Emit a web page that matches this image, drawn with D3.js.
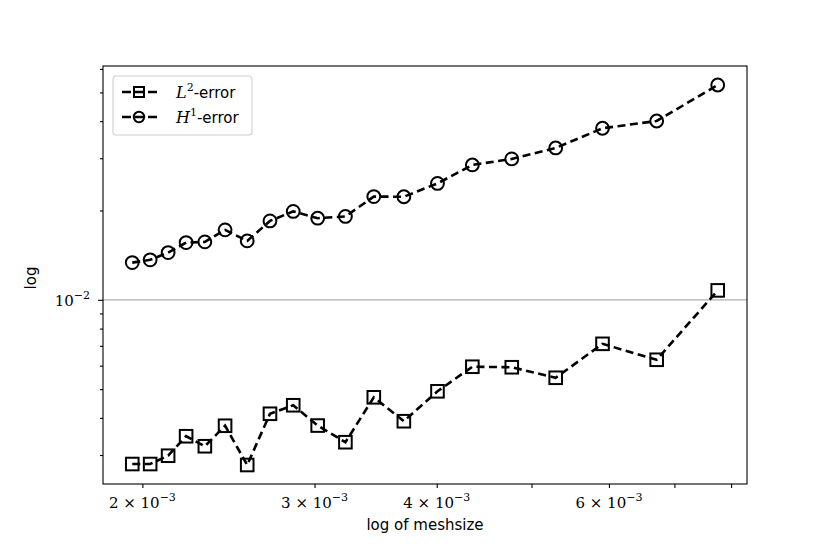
<!DOCTYPE html>
<html>
<head>
<meta charset="utf-8">
<script src="https://cdn.jsdelivr.net/npm/d3@7"></script>
<style>
  body { margin: 0; background: #fff; }
</style>
</head>
<body>
<div id="chart"></div>
<script>
// meshsize (x) and errors
const meshsize = [0.001953, 0.002037, 0.002125, 0.002217, 0.002317, 0.002430, 0.002560,
  0.002701, 0.002853, 0.003022, 0.003226, 0.003449, 0.003702, 0.004007, 0.004350,
  0.004773, 0.005293, 0.005910, 0.006714, 0.007752];
const l2Error = [0.002797, 0.002797, 0.002983, 0.003470, 0.003211, 0.003764, 0.002776,
  0.004131, 0.004413, 0.003770, 0.003313, 0.004694, 0.003899, 0.004918, 0.005950,
  0.005927, 0.005462, 0.007108, 0.006281, 0.01076];
const h1Error = [0.01335, 0.01364, 0.01443, 0.01559, 0.01568, 0.01721, 0.01580,
  0.01845, 0.01986, 0.01884, 0.01910, 0.02228, 0.02225, 0.02468, 0.02848,
  0.02984, 0.03249, 0.03786, 0.04006, 0.05296];

const xMinor = [0.002, 0.003, 0.004, 0.005, 0.006, 0.007, 0.008];
const xLabelled = [[0.002, '2'], [0.003, '3'], [0.004, '4'], [0.006, '6']];
const yMajor = [0.01];
const yMinor = [0.003, 0.004, 0.005, 0.006, 0.007, 0.008, 0.009, 0.02, 0.03, 0.04, 0.05, 0.06];

(function () {
  const WIDTH = 830, HEIGHT = 554;
  const MARGIN = { TOP: 66, BOTTOM: 70, LEFT: 103, RIGHT: 83 };
  const w = WIDTH - MARGIN.LEFT - MARGIN.RIGHT;
  const h = HEIGHT - MARGIN.TOP - MARGIN.BOTTOM;

  const serif = '"DejaVu Serif", "Liberation Serif", serif';
  const sans = '"DejaVu Sans", "Liberation Sans", sans-serif';

  const svg = d3.select('#chart').append('svg')
    .attr('width', WIDTH)
    .attr('height', HEIGHT);

  const g = svg.append('g')
    .attr('transform', `translate(${MARGIN.LEFT}, ${MARGIN.TOP})`);

  // log domain padded 5% like matplotlib
  const pad = (vals) => {
    const lo = Math.log10(d3.min(vals)), hi = Math.log10(d3.max(vals));
    const m = (hi - lo) * 0.05;
    return [Math.pow(10, lo - m), Math.pow(10, hi + m)];
  };

  const x = d3.scaleLog().domain(pad(meshsize)).range([0, w]);
  const y = d3.scaleLog().domain(pad(l2Error.concat(h1Error))).range([h, 0]);

  // grid line at the major y tick
  g.selectAll('.grid')
    .data(yMajor)
    .enter()
    .append('line')
    .attr('x1', 0).attr('x2', w)
    .attr('y1', d => y(d)).attr('y2', d => y(d))
    .style('stroke', '#b0b0b0')
    .style('stroke-width', 1.1);

  // axes
  const xAxis = g.append('g')
    .attr('transform', `translate(0, ${h})`)
    .call(d3.axisBottom(x).tickValues(xMinor).tickFormat('').tickSize(4));
  const yAxisMinor = g.append('g')
    .call(d3.axisLeft(y).tickValues(yMinor).tickFormat('').tickSize(3));
  const yAxisMajor = g.append('g')
    .call(d3.axisLeft(y).tickValues(yMajor).tickFormat('').tickSize(5));

  [xAxis, yAxisMinor, yAxisMajor].forEach(a => {
    a.select('.domain').remove();
    a.selectAll('.tick line').style('stroke', '#000').style('stroke-width', 1.1);
  });

  g.append('rect')
    .attr('width', w).attr('height', h)
    .style('fill', 'none')
    .style('stroke', '#000')
    .style('stroke-width', 1.1);

  // x tick labels  "n × 10^-3"
  const xl = g.selectAll('.xl')
    .data(xLabelled)
    .enter()
    .append('text')
    .attr('x', d => x(d[0]))
    .attr('y', h + 24)
    .attr('text-anchor', 'middle')
    .style('font-family', serif)
    .style('font-size', '15px');
  xl.append('tspan').text(d => `${d[1]} × 10`);
  xl.append('tspan').attr('dy', -7).style('font-size', '11px').text('−3');

  // y tick label
  const yl = g.selectAll('.yl')
    .data(yMajor)
    .enter()
    .append('text')
    .attr('x', -13)
    .attr('y', d => y(d) + 6)
    .attr('text-anchor', 'end')
    .style('font-family', serif)
    .style('font-size', '15px');
  yl.append('tspan').text('10');
  yl.append('tspan').attr('dy', -7).style('font-size', '11px').text('−2');

  // axis titles
  g.append('text')
    .attr('x', w / 2)
    .attr('y', h + 46)
    .attr('text-anchor', 'middle')
    .style('font-family', sans)
    .style('font-size', '15px')
    .text('log of meshsize');

  g.append('text')
    .attr('transform', `translate(-67, ${h / 2 + 3}) rotate(-90)`)
    .attr('text-anchor', 'middle')
    .style('font-family', sans)
    .style('font-size', '15px')
    .text('log');

  // series
  const series = [
    { name: 'L', sup: '2', values: l2Error, marker: 'square' },
    { name: 'H', sup: '1', values: h1Error, marker: 'circle' }
  ];

  const line = d3.line()
    .x(d => x(d[0]))
    .y(d => y(d[1]));

  const drawMarker = (sel, kind) => {
    if (kind === 'square') {
      sel.append('rect')
        .attr('x', -6.3).attr('y', -6.3)
        .attr('width', 12.6).attr('height', 12.6);
    } else {
      sel.append('circle').attr('r', 6.4);
    }
    sel.selectAll('rect, circle')
      .style('fill', 'none')
      .style('stroke', '#000')
      .style('stroke-width', 2);
  };

  series.forEach(s => {
    const pts = meshsize.map((m, i) => [m, s.values[i]]);
    g.append('path')
      .datum(pts)
      .attr('d', line)
      .style('fill', 'none')
      .style('stroke', '#000')
      .style('stroke-width', 2.6)
      .style('stroke-dasharray', '8,4.5');

    g.selectAll(`.mk-${s.marker}`)
      .data(pts)
      .enter()
      .append('g')
      .attr('class', `mk-${s.marker}`)
      .attr('transform', d => `translate(${x(d[0])}, ${y(d[1])})`)
      .each(function () { drawMarker(d3.select(this), s.marker); });
  });

  // legend
  const legend = svg.append('g').attr('transform', 'translate(113, 76)');
  legend.append('rect')
    .attr('width', 139).attr('height', 59)
    .attr('rx', 3)
    .style('fill', '#fff')
    .style('fill-opacity', 0.8)
    .style('stroke', '#d0d0d0')
    .style('stroke-width', 1.1);

  series.forEach((s, i) => {
    const row = legend.append('g').attr('transform', `translate(0, ${16 + i * 25})`);
    row.append('line')
      .attr('x1', 9).attr('x2', 47)
      .style('stroke', '#000')
      .style('stroke-width', 2.6)
      .style('stroke-dasharray', '9,4');
    const mk = row.append('g').attr('transform', 'translate(26, 0)');
    if (s.marker === 'square') {
      mk.append('rect').attr('x', -5).attr('y', -5).attr('width', 10).attr('height', 10);
    } else {
      mk.append('circle').attr('r', 5.2);
    }
    mk.selectAll('rect, circle')
      .style('fill', 'none').style('stroke', '#000').style('stroke-width', 2);

    const t = row.append('text')
      .attr('x', 63)
      .attr('y', 6)
      .style('font-size', '16px');
    t.append('tspan').style('font-family', serif).style('font-style', 'italic').text(s.name);
    t.append('tspan').attr('dy', -7).style('font-family', serif).style('font-size', '11px').text(s.sup);
    t.append('tspan').attr('dy', 7).style('font-family', sans).style('font-size', '15px').text('-error');
  });
})()
</script>
</body>
</html>
